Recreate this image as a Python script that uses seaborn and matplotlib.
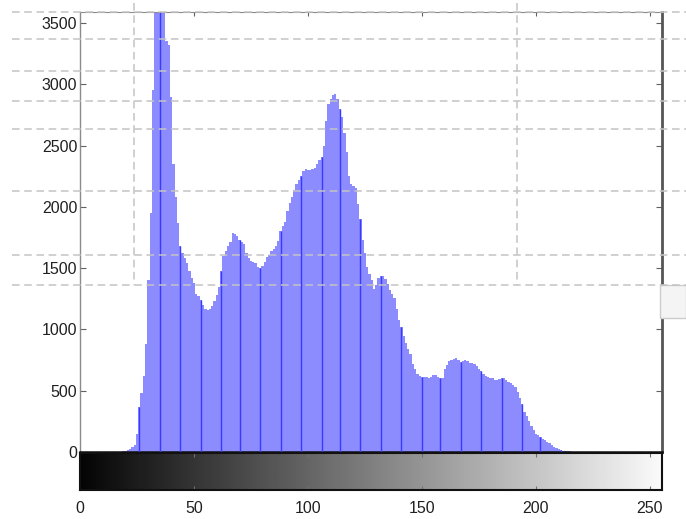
import numpy as np
import pandas as pd
import matplotlib
matplotlib.use("Agg")
import matplotlib.pyplot as plt
from matplotlib.lines import Line2D
from matplotlib.patches import Rectangle
import seaborn as sns

# ---------------- data ----------------
gray_levels = list(range(256))
pixel_counts = (
    [0] * 19 +
    [5, 12, 20, 28, 38, 60, 150, 370, 480, 620,            # 19-28
     880, 1400, 1950, 2950, 3600, 3620, 3650, 3700, 3620, 3350,  # 29-38
     3320, 2900, 2350, 2080, 1870, 1680, 1620, 1580, 1540, 1480,  # 39-48
     1420, 1380, 1290, 1270, 1240, 1200, 1170, 1160, 1170, 1190,  # 49-58
     1230, 1280, 1350, 1480, 1600, 1640, 1680, 1710, 1790, 1780,  # 59-68
     1760, 1730, 1710, 1700, 1620, 1580, 1560, 1550, 1540, 1510,  # 69-78
     1500, 1520, 1550, 1590, 1610, 1640, 1660, 1680, 1720, 1800,  # 79-88
     1840, 1880, 1970, 2030, 2080, 2140, 2190, 2220, 2250, 2290,  # 89-98
     2310, 2300, 2300, 2310, 2320, 2350, 2380, 2410, 2500, 2700,  # 99-108
     2840, 2880, 2910, 2920, 2880, 2800, 2730, 2600, 2450, 2250,  # 109-118
     2190, 2170, 2150, 2020, 1900, 1730, 1620, 1510, 1450, 1400,  # 119-128
     1330, 1360, 1420, 1440, 1440, 1410, 1370, 1320, 1290, 1260,  # 129-138
     1170, 1080, 1020, 950, 890, 840, 800, 720, 680, 640,         # 139-148
     620, 610, 610, 610, 605, 615, 630, 625, 610, 605,            # 149-158
     600, 680, 710, 740, 750, 760, 765, 750, 735, 745,            # 159-168
     750, 740, 730, 725, 715, 700, 680, 660, 635, 620,            # 169-178
     610, 605, 600, 590, 590, 595, 600, 600, 585, 570,            # 179-188
     560, 550, 530, 490, 440, 390, 330, 290, 250, 210,            # 189-198
     180, 150, 135, 120, 108, 95, 80, 70, 55, 42,                 # 199-208
     30, 22, 16, 12, 10, 7, 5, 4, 3, 2,                           # 209-218
     1] +                                                          # 219
    [0] * 36
)
y_ticks = [0, 500, 1000, 1500, 2000, 2500, 3000, 3500]
x_ticks = [0, 50, 100, 150, 200, 250]

df = pd.DataFrame({"level": gray_levels, "count": pixel_counts})

# ---------------- figure ----------------
W, H = 686, 519
fig = plt.figure(figsize=(W / 100, H / 100), dpi=100)
fig.patch.set_facecolor("white")

def fx(px):
    return px / W

def fy(py):
    return 1 - py / H

ax = fig.add_axes([fx(80), fy(452), fx(662) - fx(80), fy(12) - fy(452)])
cax = fig.add_axes([fx(80), fy(490), fx(662) - fx(80), fy(453) - fy(490)])

sns.histplot(data=df, x="level", weights="count", discrete=True, shrink=1.0,
             color="#8c8cff", alpha=1.0, linewidth=0, ax=ax)

# darker aliasing stripes of the stem plot
stripe_idx = np.round(np.arange(26.5, 256, 8.8)).astype(int)
stripe_idx = stripe_idx[stripe_idx < 256]
ax.vlines(df["level"].values[stripe_idx], 0, df["count"].values[stripe_idx],
          color="#3a3aff", lw=1.0, zorder=3)

ax.set_xlim(0, 255.3)
ax.set_ylim(0, 3590)
ax.set_facecolor("white")
ax.set_xlabel("")
ax.set_ylabel("")
ax.set_yticks(y_ticks)
ax.set_yticklabels([str(v) for v in y_ticks], fontsize=11.5,
                   family="Liberation Sans", color="#202020")
ax.set_xticks(x_ticks[1:])
ax.tick_params(axis="x", which="both", bottom=False, top=True, labelbottom=False,
               direction="in", length=3, color="#606060")
ax.tick_params(axis="y", which="both", left=True, right=True, direction="in",
               length=4, pad=2, color="#606060")
ax.spines["left"].set_color("#8a8a8a")
ax.spines["left"].set_linewidth(1.0)
ax.spines["right"].set_color("#555555")
ax.spines["right"].set_linewidth(2.0)
ax.spines["top"].set_color("#8a8a8a")
ax.spines["top"].set_linewidth(0.8)
ax.spines["bottom"].set_color("#111111")
ax.spines["bottom"].set_linewidth(1.8)
ax.grid(False)

# gray-level colorbar
grad = np.linspace(0, 1, 256).reshape(1, -1)
cax.imshow(grad, cmap="gray", aspect="auto", extent=[0, 255.3, 0, 1],
           vmin=-0.02, vmax=1.02)
cax.set_xlim(0, 255.3)
cax.set_ylim(0, 1)
cax.set_yticks([])
cax.set_xticks(x_ticks)
cax.set_xticklabels([str(v) for v in x_ticks], fontsize=11.5,
                    family="Liberation Sans", color="#202020")
cax.tick_params(axis="x", which="both", bottom=True, top=True, direction="in",
                length=3, pad=8, color="#707070")
for s in cax.spines.values():
    s.set_color("#111111")
    s.set_linewidth(1.5)

# screen overlay: dashed guide lines
dash_kw = dict(color="#c4c4c4", lw=1.1, linestyle=(0, (5, 3)), zorder=50,
               transform=fig.transFigure)
for py in [12, 39, 71, 101, 129, 191, 255, 285]:
    fig.add_artist(Line2D([fx(12), fx(686)], [fy(py), fy(py)], **dash_kw))
for px in [134, 517]:
    fig.add_artist(Line2D([fx(px), fx(px)], [fy(3), fy(285)], **dash_kw))

fig.add_artist(Rectangle((fx(660), fy(318)), fx(686) - fx(660), fy(285) - fy(318),
                         transform=fig.transFigure, facecolor="#f4f4f4",
                         edgecolor="#cccccc", lw=1.0, zorder=40))

fig.savefig("out.png", dpi=100, facecolor="white")
